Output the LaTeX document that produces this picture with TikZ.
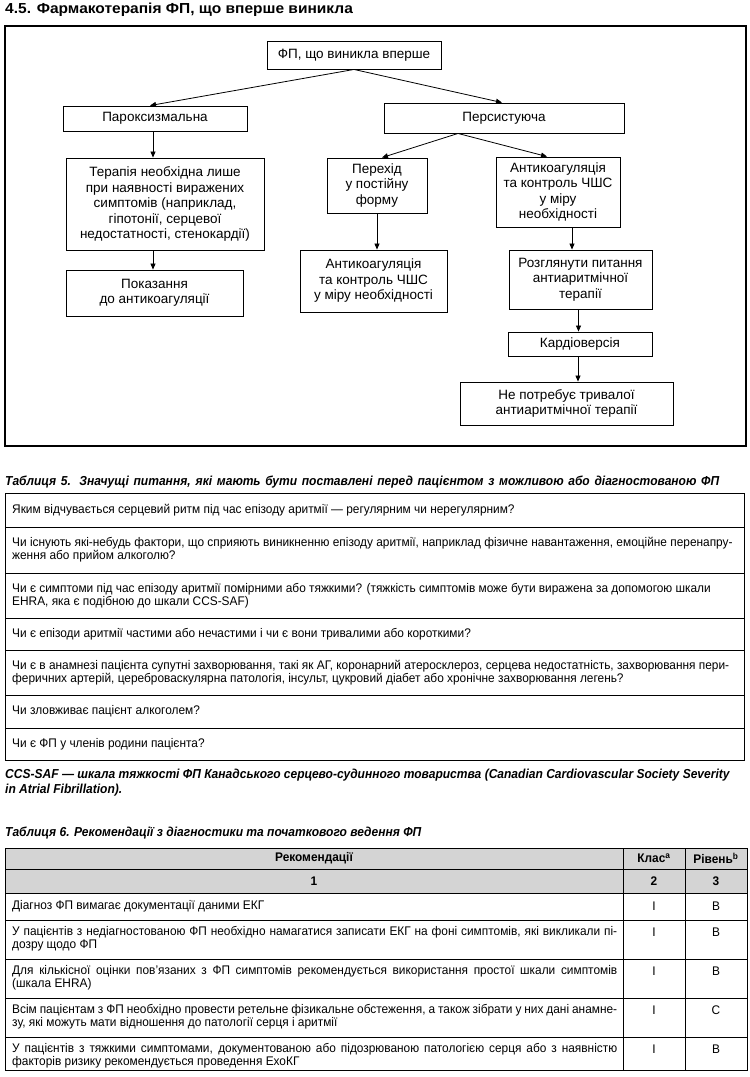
\documentclass[tikz,border=0pt]{standalone}
\usepackage{fontspec}
\setmainfont{Liberation Sans}
\newfontfamily\tf[FakeStretch=0.95]{Liberation Sans}
\newfontfamily\cf[FakeStretch=0.926]{Liberation Sans}
\newfontfamily\wf[FakeStretch=1.07]{Liberation Sans}
\usetikzlibrary{arrows.meta}
\definecolor{hdr}{RGB}{212,212,212}
\newcommand{\J}[2]{\hbox to #1{#2}}
\begin{document}
\begin{tikzpicture}[x=1pt,y=-1pt,
  box/.style={draw, line width=0.9pt, inner sep=0pt, align=center, font=\fontsize{13.5}{15.5}\selectfont},
  arr/.style={-{Triangle[length=6pt,width=5pt]}, line width=0.8pt},
  rowtxt/.style={anchor=west, inner sep=0pt, align=left, font=\tf\fontsize{12.5}{13}\selectfont},
  toptxt/.style={anchor=north west, inner sep=0pt, align=left, font=\tf\fontsize{12.5}{13}\selectfont},
  ctxt/.style={anchor=center, inner sep=0pt, font=\tf\fontsize{12.5}{13}\selectfont},
  htxt/.style={anchor=center, inner sep=0pt, font=\tf\bfseries\fontsize{12.5}{13}\selectfont},
  captxt/.style={anchor=west, inner sep=0pt, align=left, font=\cf\bfseries\itshape\fontsize{13}{15.5}\selectfont},
  tline/.style={line width=0.9pt}
]
\useasboundingbox (0,0) rectangle (750,1077);
\fill[white] (0,0) rectangle (750,1077);

% title
\node[anchor=west, inner sep=0pt, font=\wf\bfseries\fontsize{14.5}{17}\selectfont] (title) at (5,10) {4.5. Фармакотерапія ФП, що вперше виникла};

% frame
\draw[line width=1.3pt] (5,26) rectangle (746,446);

% flowchart boxes
\node[box, minimum width=174pt, minimum height=28pt] (top) at (354,55) {ФП, що виникла вперше};
\node[box, minimum width=184pt, minimum height=25pt] (parox) at (155,118.5) {Пароксизмальна};
\node[box, minimum width=240pt, minimum height=30pt] (pers) at (504,118) {Персистуюча};
\node[box, minimum width=198pt, minimum height=92pt] (ter) at (165,204) {Терапія необхідна лише\\при наявності виражених\\симптомів (наприклад,\\гіпотонії, серцевої\\недостатності, стенокардії)};
\node[box, minimum width=100pt, minimum height=55pt] (per) at (377,185.5) {Перехід\\у постійну\\форму};
\node[box, minimum width=124pt, minimum height=70pt] (antiR) at (558,192) {Антикоагуляція\\та контроль ЧШС\\у міру\\необхідності};
\node[box, minimum width=177pt, minimum height=46pt] (pok) at (154.5,293) {Показання\\до антикоагуляції};
\node[box, minimum width=147pt, minimum height=62pt] (antiM) at (373.5,281) {Антикоагуляція\\та контроль ЧШС\\у міру необхідності};
\node[box, minimum width=143pt, minimum height=59pt] (roz) at (580.5,279.5) {Розглянути питання\\антиаритмічної\\терапії};
\node[box, minimum width=144pt, minimum height=24pt] (kar) at (580,344) {Кардіоверсія};
\node[box, minimum width=213pt, minimum height=43pt] (ne) at (566.5,403.5) {Не потребує тривалої\\антиаритмічної терапії};

% connectors
\draw[arr] (top.south) -- ([xshift=-5pt]parox.north);
\draw[arr] (top.south) -- ([xshift=-2pt]pers.north);
\draw[arr] ([xshift=-2pt]parox.south) -- ([xshift=-2pt]parox.south |- ter.north);
\draw[arr] ([xshift=-46pt]pers.south) -- ([xshift=5pt]per.north);
\draw[arr] ([xshift=-46pt]pers.south) -- ([xshift=-11pt]antiR.north);
\draw[arr] ([xshift=-12pt]ter.south) -- ([xshift=-12pt]ter.south |- pok.north);
\draw[arr] (per.south) -- (per.south |- antiM.north);
\draw[arr] ([xshift=14pt]antiR.south) -- ([xshift=14pt]antiR.south |- roz.north);
\draw[arr] ([xshift=-2pt]roz.south) -- ([xshift=-2pt]roz.south |- kar.north);
\draw[arr] ([xshift=-2pt]kar.south) -- ([xshift=-2pt]kar.south |- ne.north);

% Table 5
\node[captxt] (cap5) at (5,482) {\J{714pt}{Таблиця 5. Значущі питання, які мають бути поставлені перед пацієнтом з можливою або діагностованою ФП}};
\draw[tline] (5,493) rectangle (744,760);
\foreach \yy in {527,573,618,650,695,728} \draw[tline] (5,\yy) -- (744,\yy);
\node[rowtxt] (q1) at (12,510) {Яким відчувається серцевий ритм під час епізоду аритмії — регулярним чи нерегулярним?};
\node[rowtxt] (q2) at (12,550) {Чи існують які-небудь фактори, що сприяють виникненню епізоду аритмії, наприклад фізичне навантаження, емоційне перенапру-\\ження або прийом алкоголю?};
\node[rowtxt] (q3) at (12,595.5) {Чи є симптоми під час епізоду аритмії помірними або тяжкими? (тяжкість симптомів може бути виражена за допомогою шкали\\EHRA, яка є подібною до шкали CCS-SAF)};
\node[rowtxt] (q4) at (12,634) {Чи є епізоди аритмії частими або нечастими і чи є вони тривалими або короткими?};
\node[rowtxt] (q5) at (12,672.5) {Чи є в анамнезі пацієнта супутні захворювання, такі як АГ, коронарний атеросклероз, серцева недостатність, захворювання пери-\\феричних артерій, цереброваскулярна патологія, інсульт, цукровий діабет або хронічне захворювання легень?};
\node[rowtxt] (q6) at (12,711.5) {Чи зловживає пацієнт алкоголем?};
\node[rowtxt] (q7) at (12,744) {Чи є ФП у членів родини пацієнта?};
\node[captxt] (foot) at (5,782.5) {CCS-SAF — шкала тяжкості ФП Канадського серцево-судинного товариства (Canadian Cardiovascular Society Severity\\in Atrial Fibrillation).};

% Table 6
\node[captxt] (cap6) at (5,833) {Таблиця 6. Рекомендації з діагностики та початкового ведення ФП};
\fill[hdr] (5,848) rectangle (747,893);
\draw[tline] (5,848) rectangle (747,1070);
\foreach \yy in {869,893,920,959,998,1037} \draw[tline] (5,\yy) -- (747,\yy);
\draw[tline] (623,848) -- (623,1070);
\draw[tline] (685,848) -- (685,1070);
\node[htxt] (h1) at (314,858.5) {Рекомендації};
\node[htxt] (h2) at (654,858.5) {Клас\textsuperscript{a}};
\node[htxt] (h3) at (716,858.5) {Рівень\textsuperscript{b}};
\node[htxt] (n1) at (314,881) {1};
\node[htxt] (n2) at (654,881) {2};
\node[htxt] (n3) at (716,881) {3};

\node[toptxt] (r1) at (12,900) {Діагноз ФП вимагає документації даними ЕКГ};
\node[toptxt] (r2) at (12,926) {\J{605pt}{У пацієнтів з недіагностованою ФП необхідно намагатися записати ЕКГ на фоні симптомів, які викликали пі-}\\дозру щодо ФП};
\node[toptxt] (r3) at (12,965) {\J{605pt}{Для кількісної оцінки пов’язаних з ФП симптомів рекомендується використання простої шкали симптомів}\\(шкала EHRA)};
\node[toptxt] (r4) at (12,1004) {\J{605pt}{Всім пацієнтам з ФП необхідно провести ретельне фізикальне обстеження, а також зібрати у них дані анамне-}\\зу, які можуть мати відношення до патології серця і аритмії};
\node[toptxt] (r5) at (12,1043) {\J{605pt}{У пацієнтів з тяжкими симптомами, документованою або підозрюваною патологією серця або з наявністю}\\факторів ризику рекомендується проведення ЕхоКГ};

\foreach \nm/\yy/\lv in {c1/906/B,c2/932/B,c3/971/B,c4/1010/C,c5/1049/B}{
  \node[ctxt] (\nm a) at (654,\yy) {I};
  \node[ctxt] (\nm b) at (716,\yy) {\lv};
}
\end{tikzpicture}
\end{document}
